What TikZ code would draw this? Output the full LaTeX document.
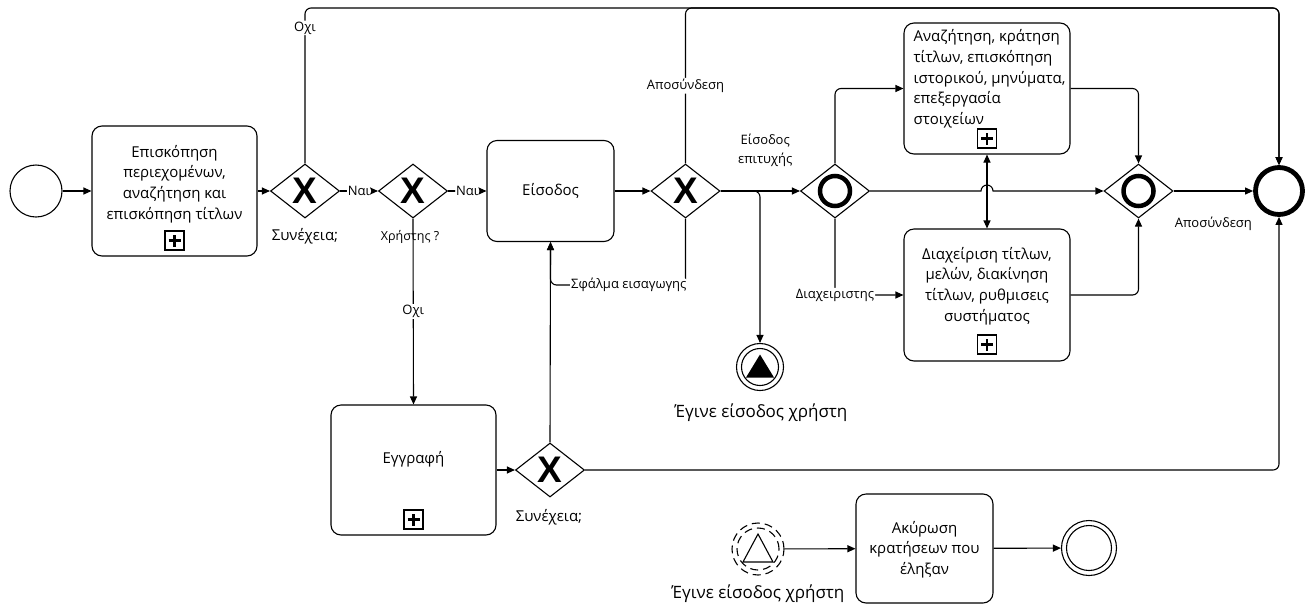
\documentclass[tikz,border=0pt]{standalone}
\usepackage{fontspec}
\setmainfont{Open Sans}
\newfontfamily\xfont{Liberation Sans}
\usetikzlibrary{positioning,arrows.meta,shapes.geometric,calc}
\newcommand{\fsz}[2]{\fontsize{#1}{#2}\selectfont}

\begin{document}
\begin{tikzpicture}[x=1pt, y=-1pt, >={Triangle[length=8pt,width=7pt]}, line width=1.1pt,
  every node/.style={font=\fsz{15}{20.7}},
  box/.style={draw, rounded corners=10pt, inner sep=0pt},
  boxtxt/.style={align=center, inner sep=0pt},
  plus/.style={draw, minimum size=19pt, inner sep=0pt, path picture={
      \coordinate (pc) at (path picture bounding box.center);
      \draw[line width=2.8pt] ([xshift=-6pt]pc) -- ([xshift=6pt]pc) ([yshift=-6pt]pc) -- ([yshift=6pt]pc);}},
  gw/.style={diamond, draw, minimum width=69pt, minimum height=54pt, inner sep=0pt, aspect=1.28},
  gwx/.style={gw, font=\xfont\bfseries\fsz{37}{37}},
  gwo/.style={gw, path picture={\draw[line width=4.5pt] (path picture bounding box.center) circle[radius=15pt];}},
  evt/.style={circle, draw, inner sep=0pt, minimum size=52pt},
  flow/.style={->, rounded corners=6pt},
  lbl/.style={font=\fsz{13}{19}, fill=white, inner sep=1pt, align=center},
  gwlbl/.style={inner sep=0pt}]
  \useasboundingbox (0,0) rectangle (1309,606);

  % main row
  \node[evt] (start) at (36,191) {};
  \node[box, minimum width=165pt, minimum height=130pt] (t1) at (174.5,191) {};
  \node[boxtxt] (t1txt) at ([yshift=7pt]t1.center) {Επισκόπηση\\περιεχομένων,\\αναζήτηση και\\επισκόπηση τίτλων};
  \node[plus, above=6pt of t1.south] (t1m) {};
  \node[gwx] (gw1) at (305,191) {X};
  \node[gwlbl] (gw1lbl) at (305,236) {Συνέχεια;};
  \node[gwx] (gw2) at (413,191) {X};
  \node[gwlbl, font=\fsz{12.5}{15}] (gw2lbl) at (410,237) {Χρήστης ?};
  \node[box, minimum width=127pt, minimum height=101pt] (login) at (550.5,191) {};
  \node[boxtxt] (logintxt) at (login.center) {Είσοδος};
  \node[gwx] (gw3) at (685.5,191) {X};
  \node[gwo] (gw5) at (835,191) {};
  \node[gwo] (gw6) at (1138.5,191) {};
  \node[evt, line width=4.8pt, minimum size=47pt] (endE) at (1279,191) {};

  % admin / user tasks
  \node[box, minimum width=166pt, minimum height=131pt] (tA) at (987,88.5) {};
  \node[boxtxt, align=left, anchor=west] (tAtxt) at (913,79) {Αναζήτηση, κράτηση\\τίτλων, επισκόπηση\\ιστορικού, μηνύματα,\\επεξεργασία\\στοιχείων};
  \node[plus, above=6pt of tA.south] (tAm) {};
  \node[box, minimum width=166pt, minimum height=132pt] (tB) at (987,295) {};
  \node[boxtxt] (tBtxt) at ([yshift=9pt]tB.center) {Διαχείριση τίτλων,\\μελών, διακίνηση\\τίτλων, ρυθμισεις\\συστήματος};
  \node[plus, above=7pt of tB.south] (tBm) {};

  % login event
  \node[evt, minimum size=47pt, path picture={
      \coordinate (pc) at (path picture bounding box.center);
      \draw (pc) circle[radius=18.5pt];
      \fill ([yshift=12.5pt]pc) -- ([shift={(14pt,-10.5pt)}]pc) -- ([shift={(-14pt,-10.5pt)}]pc) -- cycle;}] (sigE) at (760,367) {};
  \node[gwlbl, font=\fsz{17}{20}] (sigElbl) at (761,413) {Έγινε είσοδος χρήστη};

  % registration
  \node[box, minimum width=165pt, minimum height=130pt] (reg) at (413.5,470) {};
  \node[boxtxt] (regtxt) at ([yshift=11pt]reg.center) {Εγγραφή};
  \node[plus, above=6pt of reg.south] (regm) {};
  \node[gwx] (gw4) at (550,470) {X};
  \node[gwlbl] (gw4lbl) at (549,517) {Συνέχεια;};

  % expiry process
  \node[evt, dash pattern=on 8pt off 5pt, path picture={
      \coordinate (pc) at (path picture bounding box.center);
      \draw[dash pattern=on 8pt off 5pt] (pc) circle[radius=21pt];
      \draw[solid] ([yshift=15pt]pc) -- ([shift={(15pt,-13pt)}]pc) -- ([shift={(-15pt,-13pt)}]pc) -- cycle;}] (sigS) at (758,549) {};
  \node[gwlbl, font=\fsz{17}{20}] (sigSlbl) at (758,594) {Έγινε είσοδος χρήστη};
  \node[box, minimum width=137pt, minimum height=109pt] (tC) at (924.5,548.5) {};
  \node[boxtxt] (tCtxt) at ([yshift=-1pt]tC.center) {Ακύρωση\\κρατήσεων που\\έληξαν};
  \node[evt, minimum size=55pt, path picture={\draw (path picture bounding box.center) circle[radius=22.5pt];}] (endB) at (1089,548) {};

  \coordinate (topR) at (1279,8);
  \coordinate (errB) at (login.south |- 0,285);
  \coordinate (hop) at (tA.south |- gw5.east);

  \draw[flow] (start) -- (t1);
  \draw[flow] (t1) -- (gw1);
  \draw[flow] (gw1) -- node[lbl]{Ναι} (gw2);
  \draw[flow] (gw2) -- node[lbl]{Ναι} (login);
  \draw[flow] (login) -- (gw3);
  \draw[flow] (gw3) -- node[lbl, above=23pt, xshift=5pt]{Είσοδος\\επιτυχής} (gw5);
  \draw[flow] (gw3.east) -| (sigE.north);
  \draw[flow] (gw1.north) |- node[lbl, pos=0.436]{Οχι} (topR) -- (endE.north);
  \draw[flow] (gw3.north) |- node[lbl, pos=0.25]{Αποσύνδεση} (topR) -- (endE.north);
  \draw[flow] (gw3.south) |- node[lbl, pos=0.71]{Σφάλμα εισαγωγης} (errB) -- (login.south);
  \draw[flow] (gw4.north) -- (login.south);
  \draw[flow] (gw2.south) -- node[lbl]{Οχι} (reg.north);
  \draw[flow] (reg) -- (gw4);
  \draw[flow] (gw4.east) -| (endE.south);
  \draw[flow] (gw5.north) |- (tA.west);
  \draw[flow] (gw5.south) |- node[lbl, pos=0.5]{Διαχειριστης} (tB.west);
  \draw[flow] (tA.east) -| (gw6.north);
  \draw[flow] (tB.east) -| (gw6.south);
  \draw[flow, sharp corners] (gw5.east) -- ([xshift=-6pt]hop) arc[start angle=180, end angle=0, radius=6pt] -- (gw6.west);
  \draw[<->] (tA.south) -- (tB.north);
  \draw[flow] (gw6) -- node[lbl, below=24pt]{Αποσύνδεση} (endE);
  \draw[flow] (sigS) -- (tC);
  \draw[flow] (tC) -- (endB);
\end{tikzpicture}
\end{document}
